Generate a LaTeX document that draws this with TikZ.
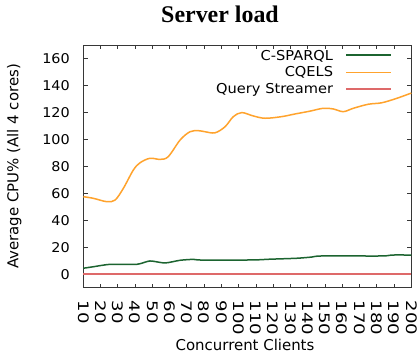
\documentclass[tikz,border=0pt]{standalone}
\usepackage{fontspec}
\newfontfamily\gp{DejaVu Sans}
\newfontfamily\gps[FakeStretch=1.07]{DejaVu Sans}
\newfontfamily\gpx[FakeStretch=1.25]{DejaVu Sans}
\newfontfamily\ttl{Liberation Serif}
\definecolor{cgreen}{RGB}{28,100,48}
\definecolor{corange}{RGB}{255,163,45}
\definecolor{cred}{RGB}{222,105,105}
\definecolor{cframe}{RGB}{55,55,55}
\tikzset{
  ticklab/.style={inner sep=0pt, font=\gps\fontsize{13.5}{15}\selectfont},
  xticklab/.style={inner sep=0pt, font=\gpx\fontsize{14.5}{16}\selectfont},
  leglab/.style={inner sep=0pt, anchor=base east, font=\gps\fontsize{13.7}{15}\selectfont},
  axlab/.style={inner sep=0pt, anchor=base, font=\gp\fontsize{15}{17}\selectfont},
  tickline/.style={cframe, line width=0.8bp},
}
\begin{document}
\begin{tikzpicture}[x=1bp,y=-1bp]
\useasboundingbox (0,0) rectangle (419,355);
\fill[white] (0,0) rectangle (419,355);
\node[font=\ttl\bfseries\fontsize{24}{28}\selectfont, anchor=base, inner sep=0pt] (title) at (220,22.7) {Server load};

% ticks and tick labels
\foreach \d in {10,20,...,200} {
  \pgfmathsetmacro\px{83.3+(\d-10)*1.72632}
  \draw[tickline] (\px,287.8) -- ++(0,-3.5);
  \draw[tickline] (\px,45.2) -- ++(0,3.5);
  \node[xticklab, rotate=-90, anchor=west] (xt\d) at (\px,300.5) {\d};
}
\foreach \v in {0,20,...,160} {
  \pgfmathsetmacro\py{274.3-\v*1.3475}
  \draw[tickline] (83.3,\py) -- ++(4.5,0);
  \draw[tickline] (411.3,\py) -- ++(-4.5,0);
  \node[ticklab, anchor=east] (yt\v) at (70,\py) {\v};
}

% frame
\coordinate (fa) at (83.3,45.2);
\coordinate (fb) at (411.3,287.8);
\draw[cframe, line width=0.9bp] (fa) rectangle (fb);

% axis labels
\node[axlab] (xlab) at (245,350) {Concurrent Clients};
\node[axlab, rotate=90] (ylab) at (18.3,166.5) {Average CPU\% (All 4 cores)};

% data
\begin{scope}[shift={(66.0368,274.3)}, x=1.72632bp, y=1.3475bp]
  \draw[cred, line width=1.8bp] (10,0) -- (200,0);
  \draw[cgreen, line width=1.5bp] plot[smooth, tension=0.4] coordinates {
    (10,4.5) (15.8,5.6) (25.5,7.4) (41,7.4) (48.6,9.9) (57.3,8.4) (66,10.4)
    (73.7,11.1) (78,10.6) (103.7,10.6) (112,10.8) (118,11.2) (133.6,11.9)
    (142.3,12.8) (148.1,13.6) (182.9,13.6) (188.7,14.3) (200,14.3)};
  \draw[corange, line width=1.5bp] plot[smooth, tension=0.55] coordinates {
    (10,57.6) (15.8,56.4) (23.6,53.9) (28.4,55.1) (33.2,63.8) (39,77.4)
    (42.9,82.8) (48.6,86.1) (54.4,85.3) (59.2,87.3) (66.1,99.7) (71.8,105.8)
    (76.6,106.6) (80.5,105.8) (86.3,105) (92.1,109.5) (96.9,117) (101.8,120)
    (108.5,117.5) (115.3,115.8) (124.9,117) (132.7,119) (141,121) (149,123.2)
    (154.8,122.7) (160.6,120.7) (166.4,123.2) (175.1,126.2) (182.9,127.3)
    (191.6,130.6) (200,134.5)};
\end{scope}

% legend
\node[leglab] (l1) at (333.3,60) {C-SPARQL};
\node[leglab] (l2) at (333.3,76.8) {CQELS};
\node[leglab] (l3) at (333.3,93.3) {Query Streamer};
\coordinate (g1a) at (346,55);   \coordinate (g1b) at (391,55);
\coordinate (g2a) at (346,72.3); \coordinate (g2b) at (391,72.3);
\coordinate (g3a) at (346,89);   \coordinate (g3b) at (391,89);
\draw[cgreen, line width=1.5bp] (g1a) -- (g1b);
\draw[corange, line width=1.5bp] (g2a) -- (g2b);
\draw[cred, line width=1.5bp] (g3a) -- (g3b);
\end{tikzpicture}
\end{document}
